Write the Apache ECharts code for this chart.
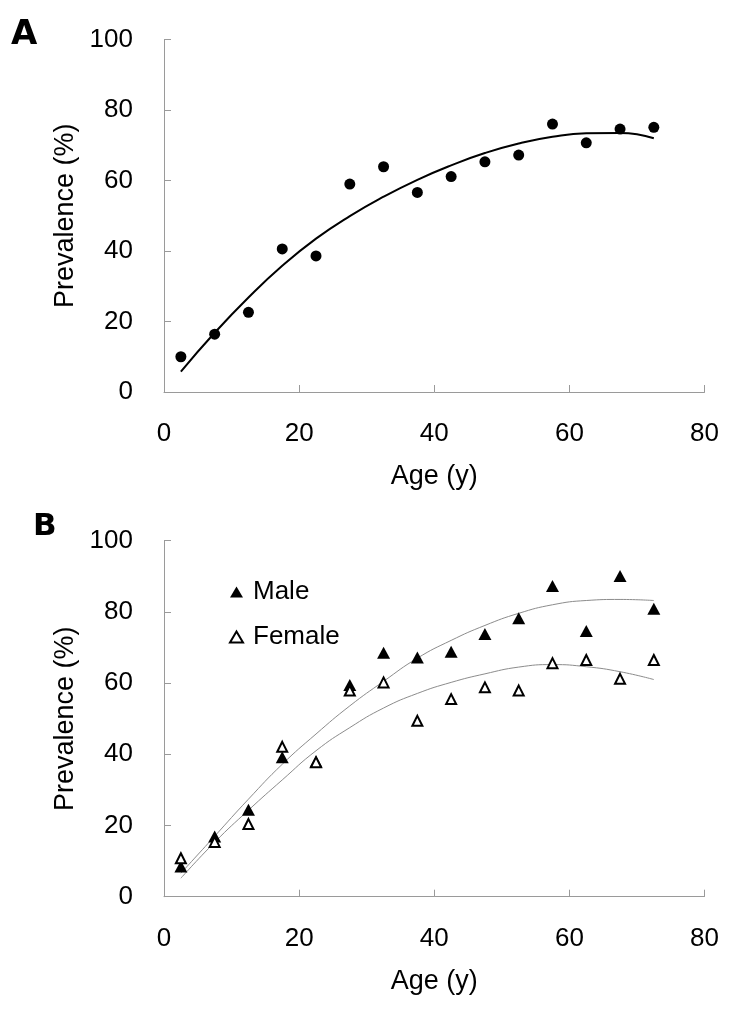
<!DOCTYPE html>
<html>
<head>
<meta charset="utf-8">
<script src="https://cdn.jsdelivr.net/npm/echarts@6/dist/echarts.min.js"></script>
<style>
html,body{margin:0;padding:0;background:#fff;}
#chart{width:750px;height:1017px;}
</style>
</head>
<body>
<div id="chart"></div>
<script>
// ---- data ----
var ages = [2.5, 7.5, 12.5, 17.5, 22.5, 27.5, 32.5, 37.5, 42.5, 47.5, 52.5, 57.5, 62.5, 67.5, 72.5];
// Panel A: all subjects
var allObs = [10.0, 16.4, 22.6, 40.6, 38.6, 59.0, 63.9, 56.6, 61.1, 65.3, 67.2, 76.0, 70.7, 74.6, 75.1];
var allFit = [5.8, 16.8, 26.8, 35.8, 43.5, 49.9, 55.4, 60.2, 64.3, 67.8, 70.5, 72.4, 73.4, 73.5, 72.0];
// Panel B: by sex
var maleObs = [8.5, 16.9, 24.4, 39.2, 38.0, 59.5, 68.5, 67.2, 68.8, 73.8, 78.2, 87.3, 74.6, 90.1, 80.9];
var femaleObs = [10.8, 15.4, 20.4, 42.1, 37.8, 57.9, 60.2, 49.4, 55.5, 58.8, 57.9, 65.6, 66.5, 61.2, 66.5];
var maleFit = [6.6, 17.0, 27.4, 37.2, 45.7, 53.6, 60.5, 67.0, 72.0, 76.2, 79.6, 82.0, 83.2, 83.5, 83.2];
var femaleFit = [5.2, 15.3, 24.3, 32.8, 41.0, 47.5, 53.0, 57.1, 60.2, 62.6, 64.5, 65.2, 64.6, 63.2, 61.0];
var xTicks = [0, 20, 40, 60, 80];
var yTicks = [0, 20, 40, 60, 80, 100];
var xTitle = 'Age (y)';
var yTitle = 'Prevalence (%)';
var legendNames = ['Male', 'Female'];

function pairs(xs, ys) { return xs.map(function (x, i) { return [x, ys[i]]; }); }

var FONT = "'Liberation Sans', Arial, sans-serif";
var AXC = '#9a9a9a';

function xAx(gi) {
  return {
    type: 'value', gridIndex: gi, min: xTicks[0], max: xTicks[xTicks.length - 1], interval: 20,
    splitLine: {show: false},
    axisLine: {show: true, lineStyle: {color: AXC, width: 1}},
    axisTick: {show: true, inside: true, length: 7, lineStyle: {color: AXC}},
    axisLabel: {fontSize: 26, color: '#000', fontFamily: FONT, margin: 29},
    name: xTitle, nameLocation: 'middle', nameGap: 71,
    nameTextStyle: {fontSize: 27, color: '#000', fontFamily: FONT}
  };
}
function yAx(gi) {
  return {
    type: 'value', gridIndex: gi, min: yTicks[0], max: yTicks[yTicks.length - 1], interval: 20,
    splitLine: {show: false},
    axisLine: {show: true, lineStyle: {color: AXC, width: 1}},
    axisTick: {show: true, inside: true, length: 7, lineStyle: {color: AXC}},
    axisLabel: {fontSize: 26, color: '#000', fontFamily: FONT, margin: 31},
    name: yTitle, nameLocation: 'middle', nameGap: 85,
    nameTextStyle: {fontSize: 27, color: '#000', fontFamily: FONT}
  };
}

var chart = echarts.init(document.getElementById('chart'), null, {renderer: 'canvas'});
chart.setOption({
  backgroundColor: '#fff',
  animation: false,
  grid: [
    {left: 164, top: 39.5, width: 540.5, height: 352.5},
    {left: 164, top: 540.7, width: 540.5, height: 356}
  ],
  xAxis: [xAx(0), xAx(1)],
  yAxis: [yAx(0), yAx(1)],
  legend: {
    orient: 'vertical', left: 224, top: 574, itemWidth: 13, itemHeight: 11, itemGap: 19,
    textStyle: {fontSize: 26, color: '#000', fontFamily: FONT, padding: [0, 0, 0, 5]},
    data: [
      {name: legendNames[0], icon: 'triangle', itemStyle: {color: '#000', borderWidth: 0, opacity: 1}},
      {name: legendNames[1], icon: 'triangle', itemStyle: {color: '#fff', borderColor: '#000', borderWidth: 2, opacity: 1}}
    ]
  },
  graphic: [
    {type: 'text', left: 11, top: 18, style: {text: 'A', font: "900 34px 'DejaVu Sans', sans-serif", fill: '#000'}},
    {type: 'text', left: 33, top: 511, style: {text: 'B', font: "900 31px 'DejaVu Sans', sans-serif", fill: '#000'}}
  ],
  series: [
    {type: 'line', name: 'All fit', xAxisIndex: 0, yAxisIndex: 0, data: pairs(ages, allFit), smooth: true,
      showSymbol: false, lineStyle: {color: '#000', width: 2}, z: 2},
    {type: 'scatter', name: 'All', xAxisIndex: 0, yAxisIndex: 0, data: pairs(ages, allObs),
      symbol: 'circle', symbolSize: 11, itemStyle: {color: '#000', opacity: 1}, z: 3},
    {type: 'line', name: 'Male fit', xAxisIndex: 1, yAxisIndex: 1, data: pairs(ages, maleFit), smooth: true,
      showSymbol: false, lineStyle: {color: '#8c8c8c', width: 1}, z: 2},
    {type: 'line', name: 'Female fit', xAxisIndex: 1, yAxisIndex: 1, data: pairs(ages, femaleFit), smooth: true,
      showSymbol: false, lineStyle: {color: '#8c8c8c', width: 1}, z: 2},
    {type: 'scatter', name: legendNames[0], xAxisIndex: 1, yAxisIndex: 1, data: pairs(ages, maleObs),
      symbol: 'triangle', symbolSize: [13, 12], itemStyle: {color: '#000', opacity: 1}, z: 3},
    {type: 'scatter', name: legendNames[1], xAxisIndex: 1, yAxisIndex: 1, data: pairs(ages, femaleObs),
      symbol: 'triangle', symbolSize: [10, 10], itemStyle: {color: '#fff', borderColor: '#000', borderWidth: 2, opacity: 1}, z: 4}
  ]
});
</script>
</body>
</html>
